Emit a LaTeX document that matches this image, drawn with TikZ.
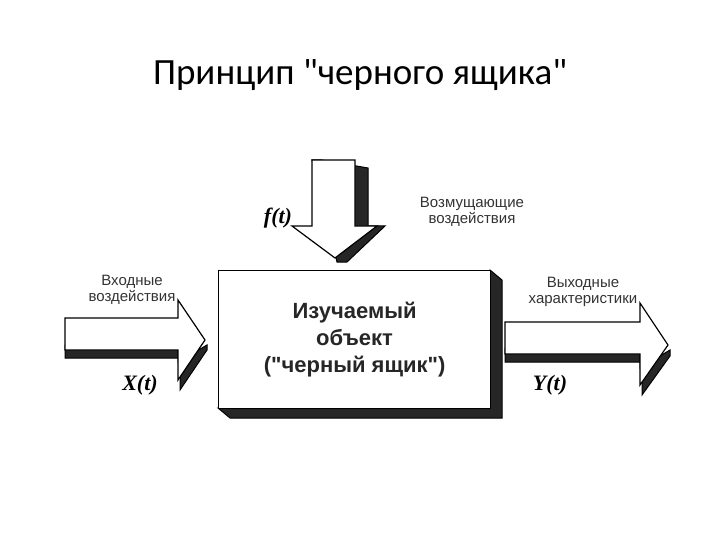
\documentclass[tikz,border=0pt]{standalone}
\usepackage{fontspec}
\newfontfamily\tit{Carlito}
\newfontfamily\lab{Liberation Sans}
\newfontfamily\ser{Liberation Serif}
\begin{document}
\begin{tikzpicture}[x=1pt,y=-1pt,
  face/.style={fill=white,draw=black,line width=1.2pt,line join=miter},
  depth/.style={fill=black!85,draw=black,line width=1pt},
  lbl/.style={font=\lab\fontsize{15}{16}\selectfont,align=center,text=black!80},
  var/.style={font=\ser\itshape\bfseries\fontsize{22}{24}\selectfont}]
\useasboundingbox (0,0) rectangle (720,540);
\node (title) at (360,75) {\tit\fontsize{37}{40}\selectfont Принцип "черного ящика"};
% box
\fill[depth] (490,270) -- (502,280) -- (502,418) -- (230,418) -- (218,408) -- (490,408) -- cycle;
\node[face,minimum width=272pt,minimum height=138pt,anchor=north west,inner sep=0pt,
  font=\lab\bfseries\fontsize{22}{27}\selectfont,text=black!85,align=center] (box) at (218,270)
  {Изучаемый\\объект\\("черный ящик")};
% down arrow
\fill[depth] (312,160) -- (322,160) -- (368,168) -- (368,226) -- (385,226) -- (347,262) -- (337,262) -- cycle;
\draw[face] (312,160) -- (355,160) -- (355,226) -- (377,226) -- (335,258) -- (292,226) -- (312,226) -- cycle;
% left arrow
\fill[depth] (65,345) -- (178,345) -- (178,362) -- (207,345) -- (207,350) -- (180,390) -- (180,358) -- (65,358) -- cycle;
\draw[face] (65,318) -- (178,318) -- (178,300) -- (205,340) -- (178,380) -- (178,350) -- (65,350) -- cycle;
% right arrow
\fill[depth] (505,348) -- (640,348) -- (640,368) -- (670,350) -- (670,356) -- (642,395) -- (642,362) -- (505,362) -- cycle;
\draw[face] (505,322) -- (640,322) -- (640,303) -- (668,345) -- (640,385) -- (640,354) -- (505,354) -- cycle;
% labels
\node[var] (f) at (278,218) {f(t)};
\node[lbl] (vozm) at (472,212) {Возмущающие\\воздействия};
\node[lbl] (vh) at (132,290) {Входные\\воздействия};
\node[var] (x) at (140,385) {X(t)};
\node[lbl] (vyh) at (583,292) {Выходные\\характеристики};
\node[var] (y) at (550,385) {Y(t)};
\end{tikzpicture}
\end{document}
